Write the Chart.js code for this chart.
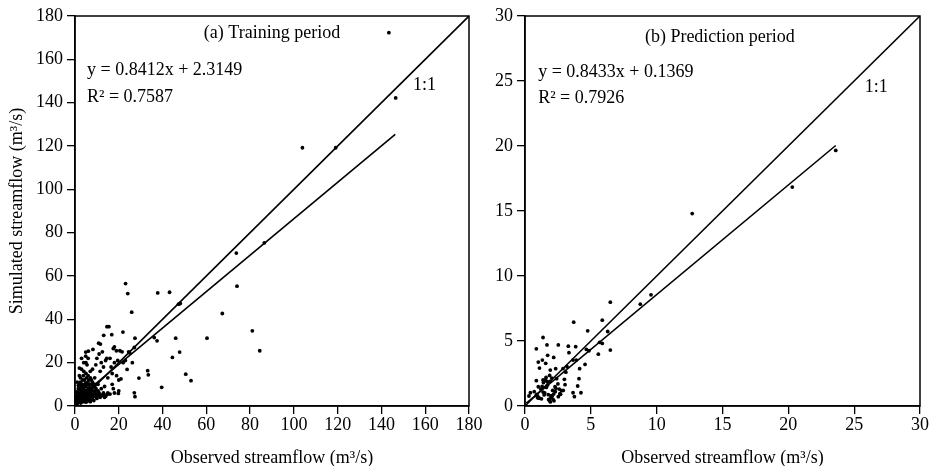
<!DOCTYPE html>
<html><head><meta charset="utf-8">
<script src="https://cdn.jsdelivr.net/npm/chart.js@4/dist/chart.umd.min.js"></script>
<style>
html,body{margin:0;padding:0;background:#fff;}
#wrap{position:relative;width:935px;height:466px;}
#c1{position:absolute;left:0;top:0;}
#c2{position:absolute;left:470px;top:0;}
</style></head><body>
<div id="wrap"><canvas id="c1" width="500" height="466"></canvas><canvas id="c2" width="465" height="466"></canvas></div>
<script>
// ---- Data ----
const trainObserved = [143.4,146.5,119.1,103.9,86.5,73.7,74.0,67.3,81.0,84.4,60.3,48.1,47.3,46.0,47.8,44.5,50.6,53.0,43.2,37.8,23.1,24.1,25.9,36.2,37.5,39.6,33.2,33.5,29.2,27.1,27.4,23.8,26.2,27.4,27.1,21.9,19.8,14.6,15.5,16.8,13.1,18.0,18.9,17.5,11.6,10.8,8.2,4.9,4.9,6.1,
 2,3,4,2.5,3.5,5,5.5,6,7,7.5,8,9,9.5,10,11,11.5,12,12.5,13,14,14.5,15,16,16.5,17,17.5,18,19,20,21,22,23,24.5,25,20.5,21.5,19.5,13.5,12,10.5,9,15,16,18,14,12.5,11,20,17,9,6.5,7,8.5,10,6,3,4,2,1.5,3,
 0.5,1,1.5,2,2.5,3,3.5,4,4.5,5,5.5,6,6.5,7,7.5,1,2,3,4,5,6,7,8,1.2,2.2,3.2,4.2,5.2,6.2,7.2,8.2,9,9.5,10,11,0.8,1.8,2.8,3.8,4.8,5.8,2.5,1.5,3.5,4.5,5.5,6.5,7.5,8.5,0.6,1.6,2.6,3.6,4.6,5.6,6.6,7.6,8.6,9.6,10.5,3,4,5,2,1,6,7,8,0.3,1.3,2.3,3.3,4.3,5.3,6.3,3.8,5,2,1,7,8,9,
 12,13,14,15,11.5,13.5,9.5,10.5,4,5,6,3,2.2,1.4,0.9,2.7,3.9,4.4,5.1,6.8];
const trainSimulated = [172.3,142.2,119.2,119.2,75.3,70.6,55.3,42.7,34.7,25.5,31.3,47.3,47.0,31.3,24.9,22.4,14.7,11.7,52.5,52.2,56.5,51.9,43.3,31.6,30.1,8.6,16.3,14.4,12.9,6.1,4.3,16.9,20.0,31.3,27.0,34.1,5.8,36.6,36.6,32.9,32.6,27.3,25.5,26.5,28.6,29.0,26.1,24.9,23.0,25.3,
 17.5,17,16,13,12,20,19,14,16,12,17,13,19,22,24,16,20,25,18,21,22,13,22,18,10,8,20,14,12,12.5,20,21,25,24.5,25.5,25,21,9,8,10,7,6,5.5,6,5,5,6,7,15,10,10,8,5,5,22,22,20,10,8,9,
 2,3,4,2.5,5,3,6,4,2.5,5,7,3.5,6,4.5,8,5,6,7,8,9,10,6,7,1.5,3.5,4.5,5.5,3,7.5,5.5,4,6,4.5,3.5,5,6.5,7.5,8.5,9.5,10.5,11,11,9.5,2,7,4,2.5,3,9,4,2,1.5,3.5,4.5,6,8.5,10,2.5,8,7,5.5,3,2,4.5,1,5,2,5.5,3,6,8,10,12,13,12,14,15,14,11,13,11,9,
 5,6,4.5,5.5,4,4,5.5,6.5,6,7,8,2.5,4,3,2.5,1.5,3,2,1.8,2.2];
const predObserved = [23.6,20.3,12.7,9.57,8.76,6.48,5.87,3.7,6.28,4.76,6.48,5.87,5.67,5.57,4.66,4.56,4.86,3.85,3.29,3.34,2.53,1.37,1.67,0.86,1.72,2.18,1.32,1.01,1.1,1.57,2.33,2.89,3.19,3.65,3.9,4.15,4.1,4.0,4.25,3.65,3.75,2.99,3.04,2.78,2.53,2.28,2.03,1.87,1.92,1.37,1.67,0.86,1.01,0.41,0.3,0.86,1.01,1.37,1.77,1.97,1.92,2.13,1.62,2.18,
 0.9,1.1,1.2,1.4,1.5,1.7,1.8,2.0,2.1,2.3,2.4,2.6,2.7,2.9,1.0,1.3,1.6,1.9,2.2,2.5,0.7,0.95,1.25,1.45,1.55,1.85,2.05,2.35,2.65,3.1];
const predSimulated = [19.66,16.84,14.8,8.55,7.83,7.99,6.6,6.45,5.73,5.78,4.3,4.81,4.9,3.99,4.35,3.2,4.25,4.56,4.6,4.1,4.7,5.27,4.7,4.4,3.9,3.74,3.53,3.38,2.92,3.28,2.87,2.87,3.02,3.53,3.53,2.87,2.1,1.54,1.02,1.02,0.72,2.05,1.64,1.18,0.72,1.48,2.15,2.35,2.76,2.0,1.89,1.95,1.48,1.02,0.77,0.82,0.61,1.07,0.87,0.67,0.31,0.51,1.43,0.92,
 0.9,0.6,1.3,1.8,1.0,1.6,0.5,0.8,1.2,1.1,2.1,1.3,0.9,1.2,0.7,1.5,2.2,1.9,0.4,1.7,1.1,0.65,0.55,0.85,2.0,0.45,0.75,1.35,0.95,2.6];
const trainFitX = [0.3, 146.3];
const trainFitSlope = 0.8412, trainFitIntercept = 2.3149;
const trainOneToOne = [0, 180];
const predFitX = [0.1, 23.6];
const predFitSlope = 0.8433, predFitIntercept = 0.1369;
const predOneToOne = [0, 30];
const trainTicks = {min:0, max:180, step:20};
const predTicks = {min:0, max:30, step:5};
const xTitle = 'Observed streamflow (m³/s)';
const yTitle = 'Simulated streamflow (m³/s)';
const trainLabels = {title:'(a) Training period', eq:'y = 0.8412x + 2.3149', r2:'R² = 0.7587', one:'1:1'};
const predLabels = {title:'(b) Prediction period', eq:'y = 0.8433x + 0.1369', r2:'R² = 0.7926', one:'1:1'};

const FONT = '"Liberation Serif","Times New Roman",serif';
const FS = 18;

function pts(xs, ys){ return xs.map((x,i)=>({x:x, y:ys[i]})); }
function fitPts(xs, a, b){ return xs.map(x=>({x:x, y:a*x+b})); }

function makeChart(id, obs, sim, fitX, a, b, oneLine, tk, labels, pos, yAxisW, padRight, showYTitle){
  const annot = {
    id:'annot',
    afterDraw(chart){
      const ctx = chart.ctx, ca = chart.chartArea, xs = chart.scales.x, ys = chart.scales.y;
      ctx.save();
      ctx.strokeStyle = '#000'; ctx.lineWidth = 1.5;
      ctx.strokeRect(ca.left, ca.top, ca.right-ca.left, ca.bottom-ca.top);
      ctx.fillStyle = '#000';
      ctx.font = FS + 'px ' + FONT;
      ctx.textBaseline = 'middle';
      ctx.textAlign = 'center';
      ctx.fillText(labels.title, xs.getPixelForValue(pos.title[0]), ys.getPixelForValue(pos.title[1]));
      ctx.textAlign = 'left';
      ctx.fillText(labels.eq, xs.getPixelForValue(pos.eq[0]), ys.getPixelForValue(pos.eq[1]));
      ctx.fillText(labels.r2, xs.getPixelForValue(pos.r2[0]), ys.getPixelForValue(pos.r2[1]));
      ctx.fillText(labels.one, xs.getPixelForValue(pos.one[0]), ys.getPixelForValue(pos.one[1]));
      ctx.textAlign = 'center';
      ctx.fillText(xTitle, (ca.left+ca.right)/2, 458);
      if (showYTitle){
        ctx.translate(17, (ca.top+ca.bottom)/2);
        ctx.rotate(-Math.PI/2);
        ctx.fillText(yTitle, 0, 0);
      }
      ctx.restore();
    }
  };
  return new Chart(document.getElementById(id), {
    data:{datasets:[
      {type:'scatter', data:pts(obs, sim), backgroundColor:'#000', borderColor:'#000', pointRadius:1.9, pointBorderWidth:0},
      {type:'line', data:oneLine.map(v=>({x:v,y:v})), borderColor:'#000', borderWidth:1.6, pointRadius:0, fill:false},
      {type:'line', data:fitPts(fitX, a, b), borderColor:'#000', borderWidth:1.6, pointRadius:0, fill:false}
    ]},
    options:{
      responsive:false, animation:false, devicePixelRatio:1,
      layout:{padding:{left:0, top:16, right:padRight, bottom:0}},
      plugins:{legend:{display:false}, tooltip:{enabled:false}},
      scales:{
        x:{type:'linear', min:tk.min, max:tk.max,
          ticks:{stepSize:tk.step, color:'#000', font:{family:FONT, size:FS}, padding:0, maxRotation:0},
          grid:{drawOnChartArea:false, drawTicks:true, tickLength:8, color:'#000', lineWidth:1.3},
          border:{display:true, color:'#000', width:1.5},
          afterFit(s){ s.height = 60; s.paddingLeft = 0; s.paddingRight = 0; }
        },
        y:{type:'linear', min:tk.min, max:tk.max,
          ticks:{stepSize:tk.step, color:'#000', font:{family:FONT, size:FS}, padding:4},
          grid:{drawOnChartArea:false, drawTicks:true, tickLength:8, color:'#000', lineWidth:1.3},
          border:{display:true, color:'#000', width:1.5},
          afterFit(s){ s.width = yAxisW; s.paddingTop = 0; s.paddingBottom = 0; }
        }
      }
    },
    plugins:[annot]
  });
}

makeChart('c1', trainObserved, trainSimulated, trainFitX, trainFitSlope, trainFitIntercept, trainOneToOne, trainTicks, trainLabels,
  {title:[90,172.2], eq:[5.5,155], r2:[5.5,142.6], one:[154.4,148]}, 75, 31, true);
makeChart('c2', predObserved, predSimulated, predFitX, predFitSlope, predFitIntercept, predOneToOne, predTicks, predLabels,
  {title:[14.8,28.4], eq:[1.0,25.7], r2:[1.0,23.7], one:[25.8,24.5]}, 55, 15, false);
</script>
</body></html>
